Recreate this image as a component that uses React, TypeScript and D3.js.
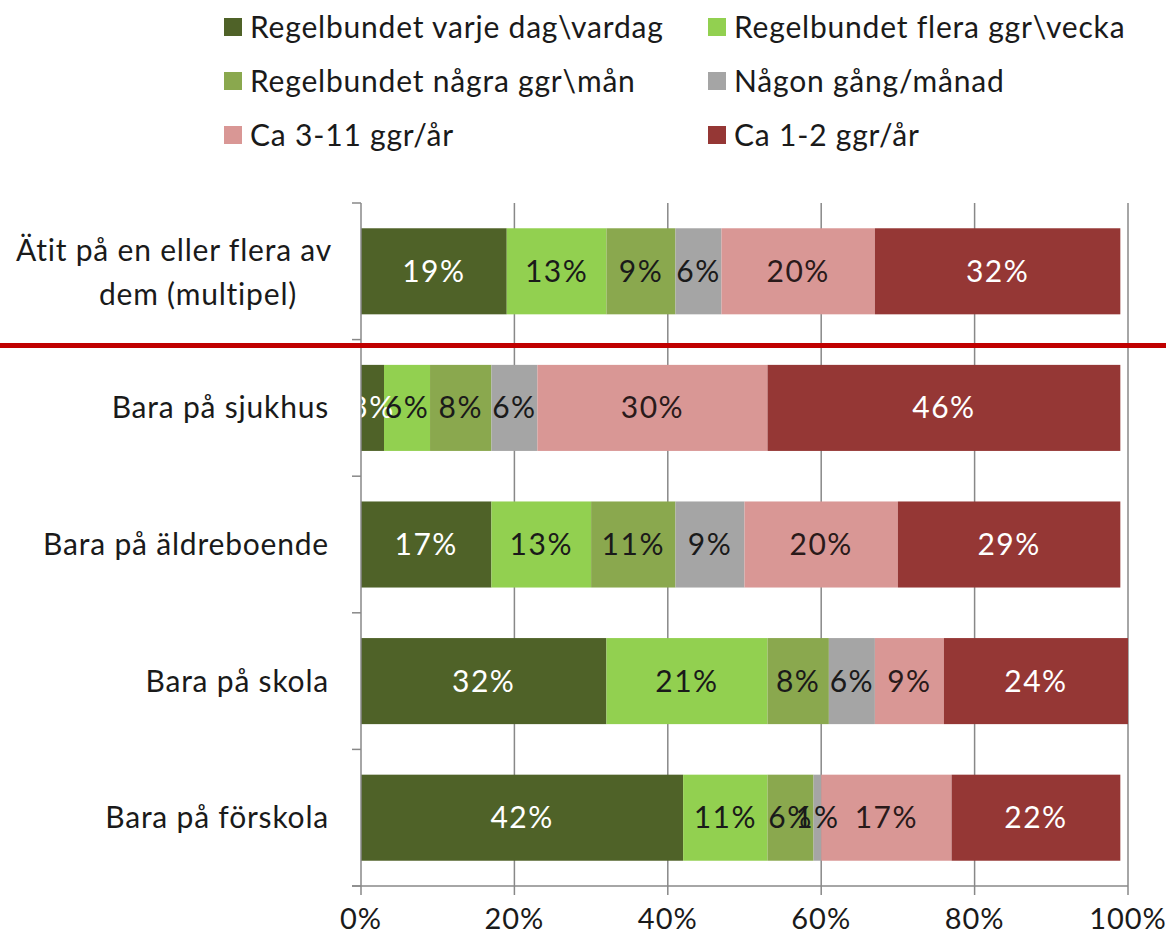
import React from "react";
import * as d3 from "d3";

// categories (top to bottom)
const categories = [
  "Ätit på en eller flera av dem (multipel)",
  "Bara på sjukhus",
  "Bara på äldreboende",
  "Bara på skola",
  "Bara på förskola",
];

// series names, one per stacked segment
const seriesNames = [
  "Regelbundet varje dag\\vardag",
  "Regelbundet flera ggr\\vecka",
  "Regelbundet några ggr\\mån",
  "Någon gång/månad",
  "Ca 3-11 ggr/år",
  "Ca 1-2 ggr/år",
];

const dagligen = [19, 3, 17, 32, 42];
const fleraVecka = [13, 6, 13, 21, 11];
const nagraMan = [9, 8, 11, 8, 6];
const nagonGang = [6, 6, 9, 6, 1];
const tre11 = [20, 30, 20, 9, 17];
const ett2 = [32, 46, 29, 24, 22];

const xTicks = [0, 20, 40, 60, 80, 100];

const colors = ["#4F6228", "#92D050", "#8AA84E", "#A5A5A5", "#D99795", "#953735"];
const labelColors = ["#ffffff", "#1a1a1a", "#1a1a1a", "#1a1a1a", "#2a1a1a", "#ffffff"];

const font = "Lato, 'Open Sans', sans-serif";

export default function App() {
  const width = 1166;
  const height = 940;

  const series = [dagligen, fleraVecka, nagraMan, nagonGang, tre11, ett2];
  const rows = categories.map((c, i) => {
    const r: any = { cat: c };
    seriesNames.forEach((s, j) => (r[s] = series[j][i]));
    return r;
  });
  const stacked = d3.stack().keys(seriesNames)(rows);

  const x = d3.scaleLinear().domain([0, 100]).range([361, 1128]);
  const y = d3
    .scaleBand()
    .domain(categories)
    .range([203, 886])
    .paddingInner(0.37)
    .paddingOuter(0.185);

  const step = y.step();
  const top = 203;
  const bottom = 886;
  const boundaries = d3.range(categories.length + 1).map((i) => top + i * step);

  return (
    <svg
      width={width}
      height={height}
      style={{ position: "absolute", left: 0, top: 0, background: "#fff" }}
      fontFamily={font}
    >
      {/* legend */}
      {seriesNames.map((s, i) => {
        const col = i % 2;
        const row = Math.floor(i / 2);
        const lx = col === 0 ? 224 : 708;
        const ly = 27 + row * 54;
        return (
          <g key={s}>
            <rect x={lx} y={ly - 9} width={18} height={18} fill={colors[i]} />
            <text x={lx + 26} y={ly} dy="0.35em" fontSize={30} letterSpacing={0.8} fill="#1a1a1a">
              {s}
            </text>
          </g>
        );
      })}

      {/* gridlines */}
      {xTicks.slice(1).map((t) => (
        <line key={t} x1={x(t)} x2={x(t)} y1={top} y2={bottom} stroke="#888" strokeWidth={1.5} />
      ))}

      {/* bars */}
      {stacked.map((layer, si) =>
        layer.map((d, ci) => (
          <rect
            key={si + "-" + ci}
            x={x(d[0])}
            y={y(categories[ci])}
            width={x(d[1]) - x(d[0])}
            height={y.bandwidth()}
            fill={colors[si]}
          />
        ))
      )}

      {/* data labels */}
      {stacked.map((layer, si) =>
        layer.map((d, ci) => (
          <text
            key={"l" + si + "-" + ci}
            x={(x(d[0]) + x(d[1])) / 2}
            y={(y(categories[ci]) as number) + y.bandwidth() / 2}
            dy="0.35em"
            textAnchor="middle"
            fontSize={30}
            letterSpacing={1.5}
            fill={labelColors[si]}
          >
            {d[1] - d[0]}%
          </text>
        ))
      )}

      {/* left axis */}
      <line x1={361} x2={361} y1={top} y2={bottom} stroke="#888" strokeWidth={1.5} />
      {boundaries.map((b, i) => (
        <line key={"bt" + i} x1={352} x2={361} y1={b} y2={b} stroke="#888" strokeWidth={1.5} />
      ))}

      {/* bottom axis */}
      <line x1={352} x2={x(100)} y1={bottom} y2={bottom} stroke="#888" strokeWidth={1.5} />
      {xTicks.map((t) => (
        <g key={"xt" + t}>
          <line x1={x(t)} x2={x(t)} y1={bottom} y2={bottom + 9} stroke="#888" strokeWidth={1.5} />
          <text x={x(t)} y={919} dy="0.35em" textAnchor="middle" fontSize={29} letterSpacing={1} fill="#1a1a1a">
            {t}%
          </text>
        </g>
      ))}

      {/* category labels */}
      {categories.map((c, i) => {
        const cy = (y(c) as number) + y.bandwidth() / 2;
        if (i === 0) {
          return (
            <g key={c}>
              <text x={332} y={cy - 21} dy="0.35em" textAnchor="end" fontSize={30} letterSpacing={0.8} fill="#1a1a1a">
                Ätit på en eller flera av
              </text>
              <text x={198} y={cy + 23} dy="0.35em" textAnchor="middle" fontSize={30} letterSpacing={0.8} fill="#1a1a1a">
                dem (multipel)
              </text>
            </g>
          );
        }
        return (
          <text key={c} x={329} y={cy} dy="0.35em" textAnchor="end" fontSize={30} letterSpacing={0.8} fill="#1a1a1a">
            {c}
          </text>
        );
      })}

      {/* red separator */}
      <line x1={0} x2={width} y1={boundaries[1] + 6} y2={boundaries[1] + 6} stroke="#C00000" strokeWidth={5} />
    </svg>
  );
}
